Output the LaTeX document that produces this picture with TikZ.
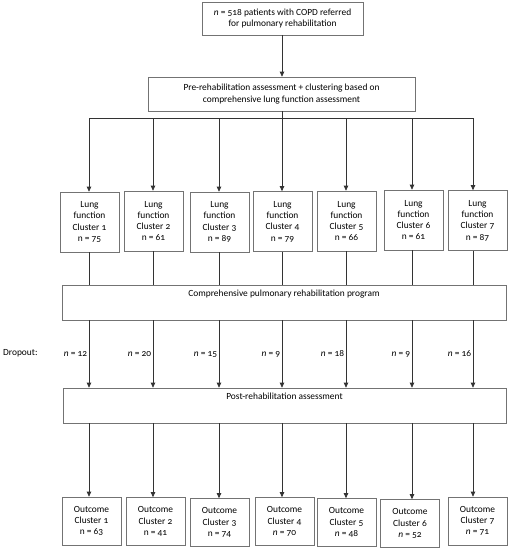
\documentclass[tikz,border=0pt]{standalone}
\usepackage{fontspec}
\setmainfont{Carlito}[Numbers=OldStyle]
\usetikzlibrary{positioning}
\usetikzlibrary{arrows.meta}
\usetikzlibrary{calc}
\tikzset{boxWide/.style={draw=black!55, line width=0.7pt, align=center, inner sep=0pt}}
\tikzset{boxCluster/.style={draw=black!55, line width=0.7pt, align=center, inner sep=0pt, minimum width=59pt, minimum height=60pt}}
\tikzset{boxOutcome/.style={draw=black!55, line width=0.7pt, align=center, inner sep=0pt, minimum width=59pt, minimum height=48pt}}
\tikzset{lineDown/.style={draw=black!80, line width=0.7pt}}
\tikzset{arrowDown/.style={lineDown, -{Triangle[length=5pt,width=4.5pt]}}}
\tikzset{dropLabel/.style={left, inner sep=1.5pt}}
\tikzset{boxTitle/.style={anchor=north, inner sep=0pt, yshift=-5.5pt}}

\begin{document}
\begin{tikzpicture}[x=1pt, y=-1pt, font=\fontsize{9.4}{11.3}\selectfont]
\useasboundingbox (0,0) rectangle (509,550);

\node[boxWide, minimum width=161pt, minimum height=33pt] (top) at (282.5, 18.5) {\textit{n} = 518 patients with COPD referred\\for pulmonary rehabilitation};
\node[boxWide, minimum width=267pt, minimum height=34pt] (assess) at (281.5, 94) {Pre-rehabilitation assessment + clustering based on\\comprehensive lung function assessment};

% columns
\coordinate (k1) at (89, 0);
\coordinate (k2) at (153, 0);
\coordinate (k3) at (219, 0);
\coordinate (k4) at (282, 0);
\coordinate (k5) at (346, 0);
\coordinate (k6) at (412, 0);
\coordinate (k7) at (473, 0);
\coordinate (bus) at (282, 118);

\node[boxCluster] (c1) at (89.5, 222) {Lung\\function\\Cluster 1\\n = 75};
\node[boxCluster] (c2) at (153.5, 221) {Lung\\function\\Cluster 2\\n = 61};
\node[boxCluster] (c3) at (219.5, 222) {Lung\\function\\Cluster 3\\n = 89};
\node[boxCluster] (c4) at (282.5, 221.5) {Lung\\function\\Cluster 4\\n = 79};
\node[boxCluster] (c5) at (346.5, 221) {Lung\\function\\Cluster 5\\n = 66};
\node[boxCluster] (c6) at (413.5, 220) {Lung\\function\\Cluster 6\\n = 61};
\node[boxCluster] (c7) at (477.5, 220.5) {Lung\\function\\Cluster 7\\n = 87};

\node[boxWide, minimum width=444pt, minimum height=35pt, label={[boxTitle]north:Comprehensive pulmonary rehabilitation program}] (prog) at (284, 302.5) {};
\node[boxWide, minimum width=443pt, minimum height=35pt, label={[boxTitle]north:Post-rehabilitation assessment}] (post) at (284.5, 405.5) {};

\node[anchor=west, inner sep=0pt] (dropout) at (3, 353) {Dropout:};

\node[boxOutcome] (o1) at (91.5, 521) {Outcome\\Cluster 1\\n = 63};
\node[boxOutcome] (o2) at (155.5, 521.5) {Outcome\\Cluster 2\\n = 41};
\node[boxOutcome] (o3) at (219.5, 522.5) {Outcome\\Cluster 3\\n = 74};
\node[boxOutcome] (o4) at (284.5, 521.5) {Outcome\\Cluster 4\\\textit{n} = 70};
\node[boxOutcome] (o5) at (346.5, 522.5) {Outcome\\Cluster 5\\\textit{n} = 48};
\node[boxOutcome] (o6) at (410, 523.5) {Outcome\\Cluster 6\\\textit{n} = 52};
\node[boxOutcome] (o7) at (477.5, 521) {Outcome\\Cluster 7\\\textit{n} = 71};

\draw[arrowDown] (top.south -| bus) -- (assess.north -| bus);
\draw[lineDown] (assess.south -| bus) -- (bus);
\draw[lineDown] (bus -| k1) -- (bus -| k7);

\draw[arrowDown] (bus -| k1) -- (c1.north -| k1);
\draw[arrowDown] (bus -| k2) -- (c2.north -| k2);
\draw[arrowDown] (bus -| k3) -- (c3.north -| k3);
\draw[arrowDown] (bus -| k4) -- (c4.north -| k4);
\draw[arrowDown] (bus -| k5) -- (c5.north -| k5);
\draw[arrowDown] (bus -| k6) -- (c6.north -| k6);
\draw[arrowDown] (bus -| k7) -- (c7.north -| k7);

\draw[lineDown] (c1.south -| k1) -- (prog.north -| k1);
\draw[lineDown] (c2.south -| k2) -- (prog.north -| k2);
\draw[lineDown] (c3.south -| k3) -- (prog.north -| k3);
\draw[lineDown] (c4.south -| k4) -- (prog.north -| k4);
\draw[lineDown] (c5.south -| k5) -- (prog.north -| k5);
\draw[lineDown] (c6.south -| k6) -- (prog.north -| k6);
\draw[lineDown] (c7.south -| k7) -- (prog.north -| k7);

\draw[arrowDown] (prog.south -| k1) -- node[dropLabel] {\textit{n} = 12} (post.north -| k1);
\draw[arrowDown] (prog.south -| k2) -- node[dropLabel] {\textit{n} = 20} (post.north -| k2);
\draw[arrowDown] (prog.south -| k3) -- node[dropLabel] {\textit{n} = 15} (post.north -| k3);
\draw[arrowDown] (prog.south -| k4) -- node[dropLabel] {\textit{n} = 9} (post.north -| k4);
\draw[arrowDown] (prog.south -| k5) -- node[dropLabel] {\textit{n} = 18} (post.north -| k5);
\draw[arrowDown] (prog.south -| k6) -- node[dropLabel] {\textit{n} = 9} (post.north -| k6);
\draw[arrowDown] (prog.south -| k7) -- node[dropLabel] {\textit{n} = 16} (post.north -| k7);

\draw[arrowDown] (post.south -| k1) -- (o1.north -| k1);
\draw[arrowDown] (post.south -| k2) -- (o2.north -| k2);
\draw[arrowDown] (post.south -| k3) -- (o3.north -| k3);
\draw[arrowDown] (post.south -| k4) -- (o4.north -| k4);
\draw[arrowDown] (post.south -| k5) -- (o5.north -| k5);
\draw[arrowDown] (post.south -| k6) -- (o6.north -| k6);
\draw[arrowDown] (post.south -| k7) -- (o7.north -| k7);

\end{tikzpicture}
\end{document}
